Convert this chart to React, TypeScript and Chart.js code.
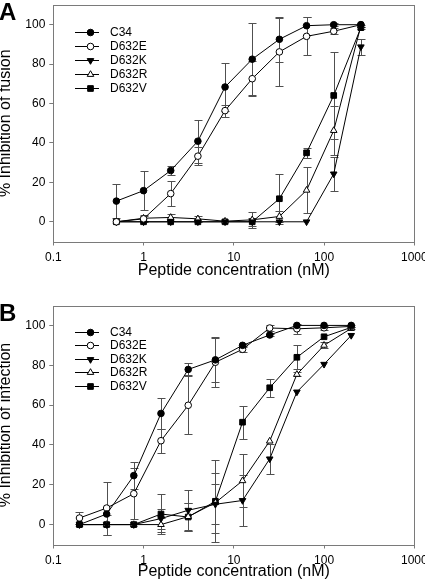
import React, { useEffect, useRef } from 'react';
import { Chart, registerables } from 'chart.js';
import { drawPoint } from 'chart.js/helpers';

Chart.register(...registerables);

const FONT = "'Liberation Sans', Arial, Helvetica, sans-serif";

const seriesNames = ['C34', 'D632E', 'D632K', 'D632R', 'D632V'];
const xTickValues = [0.1, 1, 10, 100, 1000];
const xTickLabels = ['0.1', '1', '10', '100', '1000'];
const yTickValues = [0, 20, 40, 60, 80, 100];
const xTitle = 'Peptide concentration (nM)';
const yTitleA = '% Inhibition of fusion';
const yTitleB = '% Inhibition of infection';

// Panel A: fusion
const concA = [0.5, 1, 2, 4, 8, 16, 32, 64, 128, 256];
const c34A = [10.5, 15.8, 26, 40.9, 68.4, 82.5, 92.6, 99.5, 100, 100];
const c34AErr = [8.8, 10, 2.3, 11, 12.3, 18.2, 11.5, 4.5, 0.8, 0];
const d632eA = [0, 1.5, 14.3, 33.3, 56.4, 72.6, 86.2, 94.1, 96.7, 100];
const d632eAErr = [0, 1.5, 6.5, 4.5, 3, 8.8, 17.4, 9.7, 1.5, 0];
const d632kA = [0, 0, 0, 0, 0, 0, 0, 0, 24.3, 88.8];
const d632kAErr = [0, 0, 0, 0, 0, 0, 0, 0, 8.5, 4];
const d632rA = [0, 1.8, 2.2, 1.5, 0.3, 1, 2.7, 16, 46.3, 99.5];
const d632rAErr = [0, 1.5, 1.6, 1.5, 0, 4, 3, 11.6, 12.5, 0.5];
const d632vA = [0, 0, 0, 0, 0, 0, 11.7, 35, 64.1, 98.5];
const d632vAErr = [0, 0, 0, 0, 0, 2, 12.6, 2.6, 22, 0.5];

// Panel B: infection
const concB = [0.195, 0.39, 0.78, 1.56, 3.125, 6.25, 12.5, 25, 50, 100, 200];
const c34B = [0, 5.3, 24.6, 55.8, 77.9, 82.7, 90, 95.2, 100, 100, 100];
const c34BErr = [0, 0, 6.7, 7.8, 3, 11, 0.8, 0.5, 0, 0, 0];
const d632eB = [3.3, 8.3, 15.5, 42.1, 59.9, 81.5, 88, 98.7, 98.3, 98.8, 99.5];
const d632eBErr = [3, 13.3, 12.8, 6, 14.6, 12.5, 1.5, 1.5, 2.5, 1, 0.5];
const d632kB = [0, 0, 0, 3, 7.2, 10.2, 12.1, 33, 66.6, 80.5, 95];
const d632kBErr = [0, 0, 0, 5, 10, 10, 12.6, 7.5, 0, 0, 0];
const d632rB = [0, 0, 0, 0, 4, 11, 22, 41.9, 75.4, 90, 98.5];
const d632rBErr = [0, 0, 0, 3.5, 7, 15, 13.3, 0, 1, 1.5, 0.5];
const d632vB = [0, 0, 0, 5.3, 3.8, 11.7, 51.4, 68.7, 84, 94.3, 99];
const d632vBErr = [0, 5, 0, 10, 7, 20.5, 8.2, 4.5, 6, 0, 0];

const markerStyles = [
  { pointStyle: 'circle', fill: '#000', rotation: 0, radius: 3.3 },
  { pointStyle: 'circle', fill: '#fff', rotation: 0, radius: 3.3 },
  { pointStyle: 'triangle', fill: '#000', rotation: 180, radius: 3.8 },
  { pointStyle: 'triangle', fill: '#fff', rotation: 0, radius: 3.8 },
  { pointStyle: 'rect', fill: '#000', rotation: 0, radius: 4.0 },
];

type Panel = {
  top: number;
  height: number;
  padTop: number;
  padBottom: number;
  xHeight: number;
  yTitle: string;
  conc: number[];
  values: number[][];
  errors: number[][];
  legendTop: number;
  legendStep: number;
};

const panels: Panel[] = [
  {
    top: 0, height: 290, padTop: 1, padBottom: 11.8, xHeight: 36.7, yTitle: yTitleA,
    conc: concA,
    values: [c34A, d632eA, d632kA, d632rA, d632vA],
    errors: [c34AErr, d632eAErr, d632kAErr, d632rAErr, d632vAErr],
    legendTop: 26.5, legendStep: 14,
  },
  {
    top: 290, height: 292, padTop: 15.5, padBottom: 2.2, xHeight: 35.3, yTitle: yTitleB,
    conc: concB,
    values: [c34B, d632eB, d632kB, d632rB, d632vB],
    errors: [c34BErr, d632eBErr, d632kBErr, d632rBErr, d632vBErr],
    legendTop: 26.3, legendStep: 13.5,
  },
];

const errorBarPlugin = {
  id: 'errorBars',
  beforeDatasetsDraw(chart: any) {
    const ctx = chart.ctx;
    const xs = chart.scales.x;
    const ys = chart.scales.y;
    ctx.save();
    ctx.strokeStyle = '#505050';
    ctx.lineWidth = 1;
    chart.data.datasets.forEach((ds: any) => {
      ds.data.forEach((pt: any, j: number) => {
        const e = ds.errors[j];
        if (!e) return;
        const x = Math.round(xs.getPixelForValue(pt.x)) + 0.5;
        const y1 = Math.round(ys.getPixelForValue(pt.y + e)) + 0.5;
        const y2 = Math.round(ys.getPixelForValue(pt.y - e)) + 0.5;
        ctx.beginPath();
        ctx.moveTo(x, y1);
        ctx.lineTo(x, y2);
        ctx.moveTo(x - 4, y1);
        ctx.lineTo(x + 4, y1);
        ctx.moveTo(x - 4, y2);
        ctx.lineTo(x + 4, y2);
        ctx.stroke();
      });
    });
    ctx.restore();
  },
};

const frameLegendPlugin = {
  id: 'frameLegend',
  afterDatasetsDraw(chart: any, _args: any, opts: any) {
    const ctx = chart.ctx;
    const a = chart.chartArea;
    ctx.save();
    ctx.strokeStyle = '#7a7a7a';
    ctx.lineWidth = 1;
    ctx.strokeRect(Math.round(a.left) + 0.5, Math.round(a.top) + 0.5, Math.round(a.right - a.left), Math.round(a.bottom - a.top));
    // legend
    ctx.font = `12px ${FONT}`;
    ctx.textBaseline = 'middle';
    ctx.textAlign = 'left';
    chart.data.datasets.forEach((ds: any, i: number) => {
      const y = Math.round(a.top + opts.legendTop + i * opts.legendStep) + 0.5;
      ctx.strokeStyle = '#000';
      ctx.lineWidth = 1;
      ctx.beginPath();
      ctx.moveTo(75, y);
      ctx.lineTo(99, y);
      ctx.stroke();
      ctx.fillStyle = ds.pointBackgroundColor;
      ctx.strokeStyle = '#000';
      drawPoint(ctx, {
        pointStyle: ds.pointStyle,
        rotation: ds.pointRotation,
        radius: ds.pointRadius,
        borderWidth: 1,
      }, 90.5, y);
      ctx.fillStyle = '#000';
      ctx.fillText(ds.label, 110, y + 0.5);
    });
    ctx.restore();
  },
};

function PanelChart({ panel }: { panel: Panel }) {
  const ref = useRef<HTMLCanvasElement | null>(null);
  useEffect(() => {
    if (!ref.current) return;
    const datasets = panel.values.map((vals, i) => {
      const m = markerStyles[i];
      return {
        label: seriesNames[i],
        data: panel.conc.map((c, j) => ({ x: c, y: vals[j] })),
        errors: panel.errors[i],
        borderColor: '#000',
        borderWidth: 1,
        backgroundColor: m.fill,
        pointBackgroundColor: m.fill,
        pointBorderColor: '#000',
        pointBorderWidth: 1,
        pointStyle: m.pointStyle,
        pointRotation: m.rotation,
        pointRadius: m.radius,
        pointHoverRadius: m.radius,
        tension: 0,
        fill: false,
        showLine: true,
      };
    });
    const chart = new Chart(ref.current, {
      type: 'scatter',
      data: { datasets } as any,
      plugins: [errorBarPlugin, frameLegendPlugin],
      options: {
        animation: false,
        responsive: false,
        devicePixelRatio: 1,
        layout: { padding: { top: panel.padTop, left: 0, right: 10.7, bottom: panel.padBottom } },
        plugins: {
          legend: { display: false },
          tooltip: { enabled: false },
          frameLegend: { legendTop: panel.legendTop, legendStep: panel.legendStep },
        } as any,
        scales: {
          x: {
            type: 'logarithmic',
            min: 0.1,
            max: 1000,
            afterBuildTicks: (s: any) => { s.ticks = xTickValues.map((v) => ({ value: v })); },
            afterFit: (s: any) => {
              s.height = panel.xHeight;
              s.paddingLeft = 0;
              s.paddingRight = 0;
              s.paddingTop = 0;
              s.paddingBottom = 0;
            },
            ticks: {
              autoSkip: false,
              maxRotation: 0,
              minRotation: 0,
              padding: 5,
              color: '#000',
              font: { family: FONT, size: 12 },
              callback: (_v: any, i: number) => xTickLabels[i],
            },
            grid: { display: true, drawOnChartArea: false, drawTicks: true, tickLength: 4, color: '#7a7a7a' },
            border: { display: false },
            title: {
              display: true,
              text: xTitle,
              color: '#000',
              font: { family: FONT, size: 16, lineHeight: 1 },
              padding: { top: 0, bottom: 0 },
            },
          },
          y: {
            type: 'linear',
            min: -10,
            max: 110,
            afterBuildTicks: (s: any) => { s.ticks = yTickValues.map((v) => ({ value: v })); },
            afterFit: (s: any) => {
              s.width = 53.3;
              s.paddingLeft = 0;
              s.paddingRight = 0;
              s.paddingTop = 0;
              s.paddingBottom = 0;
            },
            ticks: {
              padding: 4,
              color: '#000',
              font: { family: FONT, size: 12 },
              callback: (v: any) => String(v),
            },
            grid: { display: true, drawOnChartArea: false, drawTicks: true, tickLength: 4, color: '#7a7a7a' },
            border: { display: false },
            title: {
              display: true,
              text: panel.yTitle,
              color: '#000',
              font: { family: FONT, size: 16, lineHeight: 1 },
              padding: { top: -2, bottom: 0 },
            },
          },
        },
      } as any,
    });
    return () => chart.destroy();
  }, [panel]);
  return (
    <canvas
      ref={ref}
      width={425}
      height={panel.height}
      style={{ position: 'absolute', left: 0, top: panel.top, width: 425, height: panel.height }}
    />
  );
}

export default function App() {
  const letterStyle: React.CSSProperties = {
    position: 'absolute',
    left: -1,
    fontFamily: FONT,
    fontWeight: 'bold',
    fontSize: 24,
    lineHeight: '24px',
    color: '#000',
  };
  return (
    <div style={{ position: 'fixed', left: 0, top: 0, width: 425, height: 582, background: '#fff', overflow: 'hidden' }}>
      <PanelChart panel={panels[0]} />
      <PanelChart panel={panels[1]} />
      <div style={{ ...letterStyle, top: 0 }}>A</div>
      <div style={{ ...letterStyle, top: 301 }}>B</div>
    </div>
  );
}
